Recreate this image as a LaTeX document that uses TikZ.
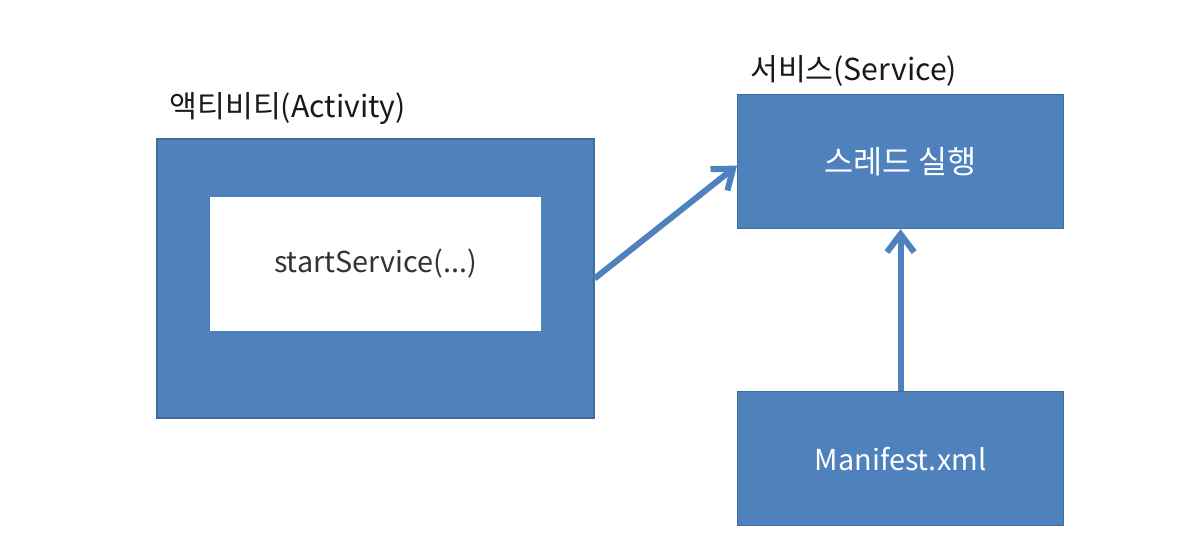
\documentclass[tikz,border=0pt]{standalone}
\usepackage{fontspec}
\setmainfont{Noto Sans CJK KR}
\usetikzlibrary{arrows.meta, positioning}

\definecolor{boxblue}{HTML}{4F81BD}
\definecolor{boxline}{HTML}{3F6C9F}

\begin{document}
\begin{tikzpicture}[
    	bluebox/.style={rectangle, fill=boxblue, draw=boxline, line width=0.8pt, minimum width=8.15cm, minimum height=3.35cm, text centered, text=white, font=\fontsize{20.5}{24}\selectfont},
    	whitebox/.style={rectangle, fill=white, minimum width=8.275cm, minimum height=3.35cm, text centered, text=black!80, font=\fontsize{20.5}{24}\selectfont},
    	caption/.style={inner sep=0pt, anchor=base west, text=black!90, font=\fontsize{21.5}{25}\selectfont},
    	arrow/.style={draw=boxblue, line width=4.3pt, -{Straight Barb[length=0.45cm, width=0.68cm]}}
    	]
    	
    	% 여백
    	\useasboundingbox (0,0) rectangle (30.075,-13.45);
    	
    	% 왼쪽 - 액티비티
    	\node (activity) [bluebox, minimum width=10.925cm, minimum height=6.975cm] at (9.3875,-6.9625) {};
    	\node (startcall) [whitebox, below=1.45cm of activity.north] {startService(...)};
    	\node (activitylabel) [caption, above right=0.35cm and 0.325cm of activity.north west] {액티비티(Activity)};
    	
    	% 오른쪽 - 서비스
    	\node (service) [bluebox, anchor=north west] at (18.425,-2.35) {\fontsize{22.5}{26}\selectfont 스레드 실행};
    	\node (servicelabel) [caption, above right=0.175cm and 0.325cm of service.north west] {서비스(Service)};
    	\node (manifest) [bluebox, below=4.05cm of service] {Manifest.xml};
    	
    	% 연결선
    	\draw [arrow] (activity.east) -- ([yshift=-0.1cm]service.west);
    	\draw [arrow] (manifest) -- (service);
    	
\end{tikzpicture}
\end{document}
